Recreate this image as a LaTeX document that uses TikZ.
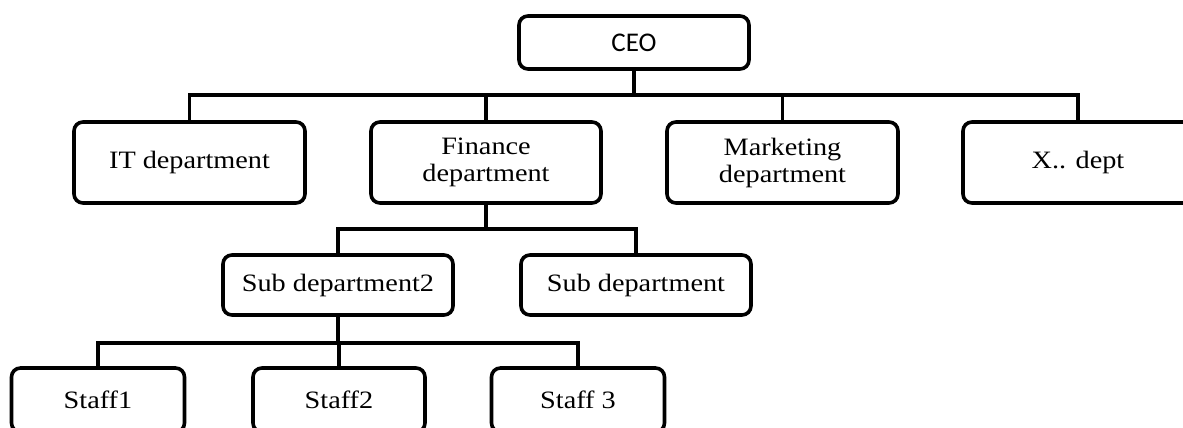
\documentclass[tikz,border=0pt]{standalone}
\usepackage{fontspec}
\setmainfont{Liberation Serif}[FakeStretch=1.13]
\newfontfamily\ceofont{Carlito}
\tikzset{
  box/.style={draw=black, line width=3.6pt, rounded corners=9pt, fill=white,
    inner sep=0pt, align=center, font=\fontsize{25}{27}\selectfont},
  conn/.style={draw=black, line width=3.6pt, line cap=rect}
}
\begin{document}
\begin{tikzpicture}[x=1pt,y=-1pt]
\useasboundingbox (0,0) rectangle (1183,428);
\begin{scope}
\clip (0,0) rectangle (1183,428);
% bus coordinates
\coordinate (b1) at (634,95);
\coordinate (b2) at (486,229);
\coordinate (b3) at (338,343);
% connectors (drawn first, boxes on top)
\node[box, minimum width=230pt, minimum height=53pt, font=\ceofont\fontsize{27}{29}\selectfont] (ceo) at (634,42.5) {CEO};
\node[box, minimum width=231pt, minimum height=81pt] (it) at (189.5,162.5) {IT department};
\node[box, minimum width=230pt, minimum height=81pt] (fin) at (486,162.5) {Finance\\department};
\node[box, minimum width=231pt, minimum height=81pt] (mkt) at (782.5,162.5) {Marketing\\department};
\node[box, minimum width=230pt, minimum height=81pt] (xd) at (1078,162.5) {X.. dept};
\node[box, minimum width=230pt, minimum height=60pt] (sub2) at (338,285) {Sub department2};
\node[box, minimum width=230pt, minimum height=60pt] (sub) at (636,285) {Sub department};
\node[box, minimum width=173pt, minimum height=64pt] (s1) at (98,400) {Staff1};
\node[box, minimum width=172pt, minimum height=64pt] (s2) at (339,400) {Staff2};
\node[box, minimum width=173pt, minimum height=64pt] (s3) at (578,400) {Staff 3};
\draw[conn] (ceo.south) -- (b1);
\draw[conn] (it.north) |- (b1) -| (xd.north);
\draw[conn] (fin.north) -- (fin.north |- b1);
\draw[conn] (mkt.north) -- (mkt.north |- b1);
\draw[conn] (fin.south) -- (b2);
\draw[conn] (sub2.north) |- (b2) -| (sub.north);
\draw[conn] (sub2.south) -- (b3);
\draw[conn] (s1.north) |- (b3) -| (s3.north);
\draw[conn] (s2.north) -- (s2.north |- b3);
\end{scope}
\end{tikzpicture}
\end{document}
